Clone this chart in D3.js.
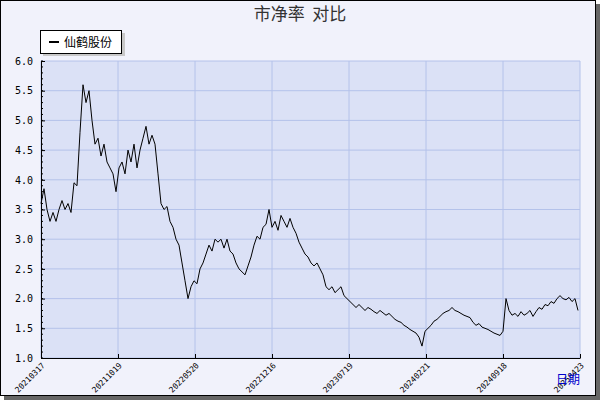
<!DOCTYPE html>
<html><head><meta charset="utf-8">
<script src="https://cdn.jsdelivr.net/npm/d3@7"></script>
<style>body{margin:0}svg{display:block}</style>
</head><body>
<svg id="chart" width="600" height="400"></svg>
<script>
// price-to-book, one value every 3 trading-day units (0..539)
const step = 3;
const pbr = [
  3.6,3.85,3.5,3.3,3.45,3.3,3.5,3.65,3.5,3.6,
  3.45,3.95,3.9,4.8,5.6,5.3,5.5,5.0,4.6,4.7,
  4.4,4.6,4.3,4.2,4.1,3.8,4.2,4.3,4.1,4.5,
  4.3,4.6,4.2,4.5,4.7,4.9,4.6,4.75,4.6,4.1,
  3.6,3.5,3.55,3.3,3.2,3.0,2.9,2.6,2.3,2.0,
  2.2,2.3,2.25,2.5,2.6,2.75,2.9,2.8,3.0,2.95,
  3.0,2.85,3.0,2.8,2.75,2.6,2.5,2.45,2.4,2.55,
  2.7,2.9,3.05,3.0,3.2,3.25,3.5,3.2,3.3,3.15,
  3.4,3.3,3.2,3.35,3.2,3.1,2.95,2.85,2.75,2.7,
  2.6,2.55,2.6,2.5,2.4,2.2,2.15,2.2,2.1,2.15,
  2.2,2.05,2.0,1.95,1.9,1.85,1.9,1.85,1.8,1.85,
  1.82,1.78,1.75,1.8,1.76,1.72,1.75,1.7,1.65,1.62,
  1.6,1.55,1.52,1.48,1.45,1.42,1.35,1.2,1.45,1.5,
  1.55,1.62,1.65,1.7,1.75,1.78,1.8,1.85,1.8,1.78,
  1.75,1.72,1.7,1.68,1.6,1.55,1.58,1.52,1.5,1.48,
  1.45,1.42,1.4,1.38,1.45,2.0,1.8,1.72,1.75,1.7,
  1.78,1.72,1.75,1.8,1.7,1.78,1.85,1.82,1.9,1.88,
  1.95,1.92,2.0,2.05,2.0,1.98,2.02,1.95,2.0,1.8
];
const tickPos = [0,77,154,231,308,385,462,539];
const tickLabels = ["20210317","20211019","20220520","20221216","20230719","20240221","20240918","20250423"];
const yTicks = [1.0,1.5,2.0,2.5,3.0,3.5,4.0,4.5,5.0,5.5,6.0];

const svg = d3.select("#chart");
const L = 41, R = 580, T = 61, B = 358;
const x = d3.scaleLinear().domain([0, 539]).range([L, R]);
const y = d3.scaleLinear().domain([1, 6]).range([B, T]);

// frame + shadow
svg.append("rect").attr("x", 4).attr("y", 4).attr("width", 596).attr("height", 396).attr("fill", "#666");
svg.append("rect").attr("x", 0.5).attr("y", 0.5).attr("width", 595).attr("height", 395)
    .attr("fill", "#f1f2fb").attr("stroke", "#000");

svg.append("rect").attr("x", L).attr("y", T).attr("width", R - L).attr("height", B - T).attr("fill", "#dbe1f6");

// grid
svg.append("g").selectAll("line").data(tickPos).join("line")
    .attr("x1", d => x(d)).attr("x2", d => x(d)).attr("y1", T).attr("y2", B)
    .attr("stroke", "#b4c2ea");
svg.append("g").selectAll("line").data(yTicks).join("line")
    .attr("x1", L).attr("x2", R).attr("y1", d => y(d)).attr("y2", d => y(d))
    .attr("stroke", "#b4c2ea");

// axes
const yAxis = svg.append("g").attr("transform", `translate(${L},0)`)
    .call(d3.axisLeft(y).tickValues(yTicks).tickFormat(d3.format(".1f")).tickSizeInner(-4).tickSizeOuter(0));
yAxis.append("g").selectAll("line").data(d3.range(1, 6.01, 0.1)).join("line")
    .attr("x1", 0).attr("x2", 2).attr("y1", d => y(d)).attr("y2", d => y(d)).attr("stroke", "#000");
yAxis.selectAll("text").attr("x", -8).attr("font-family", "DejaVu Sans Mono").attr("font-size", 10).attr("fill", "#000");

const xAxis = svg.append("g").attr("transform", `translate(0,${B})`)
    .call(d3.axisBottom(x).tickValues(tickPos).tickFormat((d, i) => tickLabels[i]).tickSizeInner(-4).tickSizeOuter(0));
xAxis.selectAll("text")
    .attr("font-family", "DejaVu Sans Mono").attr("font-size", 8).attr("fill", "#000")
    .attr("text-anchor", "end").attr("dy", 0).attr("y", 0)
    .attr("transform", "translate(4,8) rotate(-45)");
svg.selectAll(".domain").attr("stroke", "#000");

// line
svg.append("path").datum(pbr)
    .attr("fill", "none").attr("stroke", "#000").attr("stroke-width", 1)
    .attr("d", d3.line().x((d, i) => x(i * step)).y(d => y(d)));

// title
svg.append("text").attr("x", 300).attr("y", 20).attr("text-anchor", "middle")
    .attr("font-family", "Noto Sans CJK SC").attr("font-size", 17).attr("fill", "#333").text("市净率\u00a0\u00a0对比");

// legend
svg.append("rect").attr("x", 43).attr("y", 33).attr("width", 82).attr("height", 23).attr("fill", "#c8c8c8");
svg.append("rect").attr("x", 40.5).attr("y", 30.5).attr("width", 81).attr("height", 23).attr("fill", "#fff").attr("stroke", "#000");
svg.append("line").attr("x1", 49).attr("x2", 59).attr("y1", 42).attr("y2", 42).attr("stroke", "#000").attr("stroke-width", 2);
svg.append("text").attr("x", 64).attr("y", 47).attr("font-family", "Noto Sans CJK SC").attr("font-size", 12).text("仙鹤股份");

svg.append("text").attr("x", 556).attr("y", 384).attr("font-family", "Noto Sans CJK SC")
    .attr("font-size", 12).attr("fill", "#0000cc").text("日期");
</script>
</body></html>
